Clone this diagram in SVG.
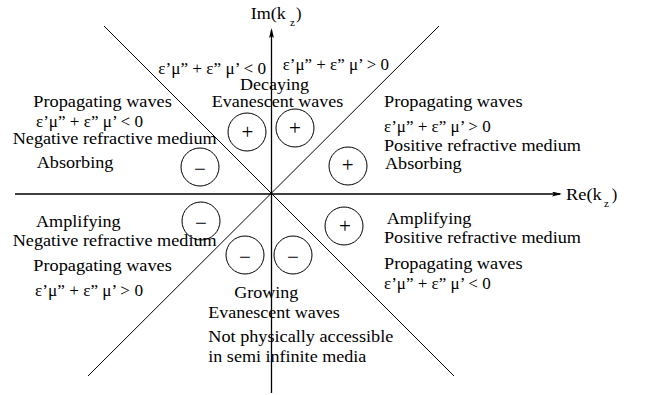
<svg xmlns="http://www.w3.org/2000/svg" width="649" height="395" viewBox="0 0 649 395">
<style>
text{font-family:"Liberation Serif","Times New Roman",serif;font-size:16.5px;fill:#000}
.sub{font-size:11px}
.ax{stroke:#000;stroke-width:1.3;fill:none}
.ln{stroke:#000;stroke-width:1;fill:none}
.c{fill:none;stroke:#000;stroke-width:1}
.s{text-anchor:middle;font-size:21px}
</style>
<defs>
<marker id="ah" markerUnits="userSpaceOnUse" viewBox="0 0 10 5" markerWidth="10" markerHeight="5" refX="8" refY="2.5" orient="auto">
<path d="M0,0 L10,2.5 L0,5 L2,2.5 z" fill="#000"/>
</marker>
</defs>
<rect width="649" height="395" fill="#fff"/>
<g id="connectors">
<line class="ax" x1="271.5" y1="393" x2="271.5" y2="30" marker-end="url(#ah)"/>
<line class="ax" x1="15" y1="194" x2="560" y2="194" marker-end="url(#ah)"/>
<line class="ln" x1="104" y1="26" x2="454" y2="376"/>
<line class="ln" x1="439" y1="26" x2="88" y2="376"/>
</g>
<g id="axis-im">
<text x="250.7" y="19.3" textLength="35" lengthAdjust="spacingAndGlyphs">Im(k</text>
<text class="sub" x="290" y="26">z</text>
<text x="296" y="19.3">)</text>
</g>
<g id="axis-re">
<text x="566" y="200" textLength="35.7" lengthAdjust="spacingAndGlyphs">Re(k</text>
<text class="sub" x="604" y="206.7">z</text>
<text x="611.7" y="200">)</text>
</g>
<g id="top-conditions">
<text x="158.3" y="74" textLength="107.7" lengthAdjust="spacingAndGlyphs">ε’μ” + ε” μ’ &lt; 0</text>
<text x="282.7" y="70" textLength="106.3" lengthAdjust="spacingAndGlyphs">ε’μ” + ε” μ’  &gt; 0</text>
</g>
<g id="region-top">
<text x="240" y="90" textLength="69" lengthAdjust="spacingAndGlyphs">Decaying</text>
<text x="211.7" y="106.7" textLength="131.6" lengthAdjust="spacingAndGlyphs">Evanescent waves</text>
</g>
<g id="region-upper-left">
<text x="33.3" y="106.7" textLength="138.5" lengthAdjust="spacingAndGlyphs">Propagating waves</text>
<text x="36" y="126.7" textLength="107" lengthAdjust="spacingAndGlyphs">ε’μ” + ε” μ’ &lt; 0</text>
<text x="12.7" y="144.3" textLength="204" lengthAdjust="spacingAndGlyphs">Negative refractive medium</text>
<text x="36.7" y="167.5" textLength="76.7" lengthAdjust="spacingAndGlyphs">Absorbing</text>
</g>
<g id="region-upper-right">
<text x="384" y="107.3" textLength="138.5" lengthAdjust="spacingAndGlyphs">Propagating waves</text>
<text x="384" y="131.7" textLength="106.7" lengthAdjust="spacingAndGlyphs">ε’μ” + ε” μ’  &gt; 0</text>
<text x="384" y="151" textLength="197" lengthAdjust="spacingAndGlyphs">Positive refractive medium</text>
<text x="385" y="169.3" textLength="76.7" lengthAdjust="spacingAndGlyphs">Absorbing</text>
</g>
<g id="region-lower-left">
<text x="36" y="227.3" textLength="84.7" lengthAdjust="spacingAndGlyphs">Amplifying</text>
<text x="12.7" y="246" textLength="204" lengthAdjust="spacingAndGlyphs">Negative refractive medium</text>
<text x="33.3" y="270.7" textLength="138.5" lengthAdjust="spacingAndGlyphs">Propagating waves</text>
<text x="35" y="296" textLength="108" lengthAdjust="spacingAndGlyphs">ε’μ” + ε” μ’ &gt; 0</text>
</g>
<g id="region-lower-right">
<text x="386.7" y="224.3" textLength="84.7" lengthAdjust="spacingAndGlyphs">Amplifying</text>
<text x="384" y="243.3" textLength="197" lengthAdjust="spacingAndGlyphs">Positive refractive medium</text>
<text x="384" y="269" textLength="138.5" lengthAdjust="spacingAndGlyphs">Propagating waves</text>
<text x="384" y="289.3" textLength="106.7" lengthAdjust="spacingAndGlyphs">ε’μ” + ε” μ’ &lt; 0</text>
</g>
<g id="region-bottom">
<text x="234.3" y="298.3" textLength="64" lengthAdjust="spacingAndGlyphs">Growing</text>
<text x="208.3" y="318.3" textLength="131.6" lengthAdjust="spacingAndGlyphs">Evanescent waves</text>
<text x="208.3" y="341.7" textLength="185" lengthAdjust="spacingAndGlyphs">Not physically accessible</text>
<text x="208.3" y="361.7" textLength="158" lengthAdjust="spacingAndGlyphs">in semi infinite media</text>
</g>
<g id="sign-1"><circle class="c" cx="247" cy="132" r="19"/><text class="s" x="247.3" y="139">+</text></g>
<g id="sign-2"><circle class="c" cx="295" cy="128" r="19"/><text class="s" x="295" y="135">+</text></g>
<g id="sign-3"><circle class="c" cx="200" cy="167" r="19"/><text class="s" x="200" y="176">−</text></g>
<g id="sign-4"><circle class="c" cx="348" cy="166" r="19"/><text class="s" x="347.7" y="172">+</text></g>
<g id="sign-5"><circle class="c" cx="201" cy="221" r="19"/><text class="s" x="201" y="230">−</text></g>
<g id="sign-6"><circle class="c" cx="245" cy="255" r="19"/><text class="s" x="245" y="264">−</text></g>
<g id="sign-7"><circle class="c" cx="293" cy="255" r="19"/><text class="s" x="293" y="264">−</text></g>
<g id="sign-8"><circle class="c" cx="344" cy="226" r="19"/><text class="s" x="345" y="232.5">+</text></g>
</svg>
